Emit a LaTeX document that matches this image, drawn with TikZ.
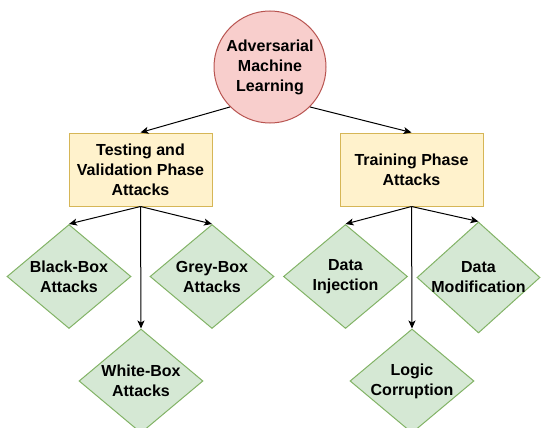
\documentclass[tikz,border=0pt]{standalone}
\usepackage{fontspec}
\setmainfont{Liberation Sans}
\usetikzlibrary{arrows.meta,shapes.geometric}

\definecolor{rootfill}{HTML}{F8CECC}
\definecolor{rootline}{HTML}{B85450}
\definecolor{phasefill}{HTML}{FFF2CC}
\definecolor{phaseline}{HTML}{D6B656}
\definecolor{leaffill}{HTML}{D5E8D4}
\definecolor{leafline}{HTML}{82B366}

\tikzset{
	lbl/.style={align=center, font=\fontsize{16}{20}\selectfont\bfseries},
	root/.style={lbl, circle, draw=rootline, fill=rootfill, line width=1pt, inner sep=0pt, minimum size=112pt},
	phase/.style={lbl, rectangle, draw=phaseline, fill=phasefill, line width=1pt, minimum width=143pt, minimum height=73pt},
	leaf/.style={diamond, draw=leafline, fill=leaffill, line width=1pt, inner sep=0pt, minimum width=124pt, minimum height=104pt},
	link/.style={draw=black, line width=1pt, -{Stealth[length=8pt, width=7pt, inset=2pt]}}
}

\begin{document}
\begin{tikzpicture}[x=1pt, y=-1pt]
		%%%%% START %%%%%
		\useasboundingbox (0, 0) rectangle (541, 428);
		
		\node[root] (adv) at (270, 67) {Adversarial\\Machine\\Learning};
		
		\node[phase] (test) at (140.5, 169.5) {Testing and\\Validation Phase\\Attacks};
		\node[phase] (train) at (411.5, 169.5) {Training Phase\\Attacks};
		
		\node[leaf, label={[lbl]center:Black-Box\\Attacks}] (black) at (69, 276.5) {};
		\node[leaf, label={[lbl]center:Grey-Box\\Attacks}] (grey) at (212, 276.5) {};
		\node[leaf, label={[lbl]center:White-Box\\Attacks}] (white) at (141, 381) {};
		
		\node[leaf, label={[lbl]center:Data\\Injection}] (inject) at (345.5, 276.5) {};
		\node[leaf, minimum width=123pt, minimum height=111pt, label={[lbl]center:Data\\Modification}] (modify) at (478.5, 277.5) {};
		\node[leaf, label={[lbl]center:Logic\\Corruption}] (logic) at (412, 381) {};
		
		\draw[link] (adv.225) -- (test.north);
		\draw[link] (adv.-45) -- (train.north);
		
		\draw[link] (test.south) -- (black.north);
		\draw[link] (test.south) -- (grey.north);
		\draw[link] (test.south) -- (white.north);
		
		\draw[link] (train.south) -- (inject.north);
		\draw[link] (train.south) -- (modify.north);
		\draw[link] (train.south) -- (logic.north);
		%%%%% END %%%%%
\end{tikzpicture}
\end{document}
